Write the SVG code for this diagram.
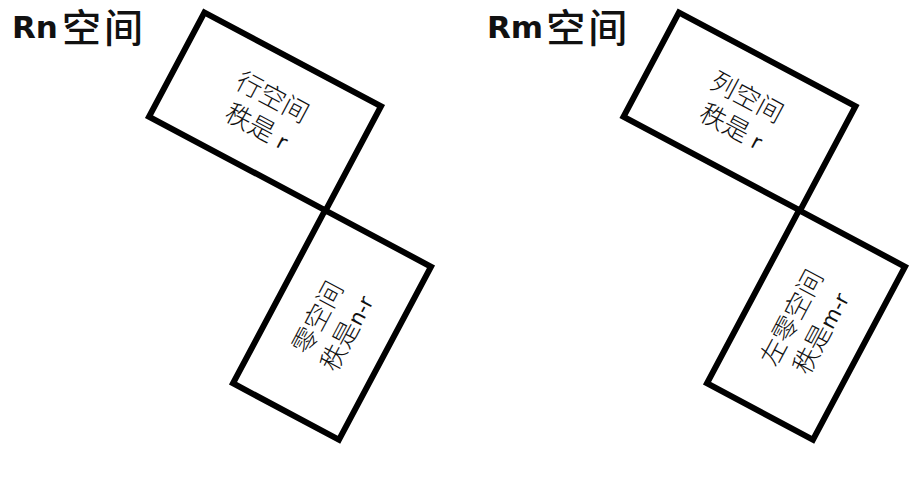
<svg xmlns="http://www.w3.org/2000/svg" width="920" height="481" viewBox="0 0 920 481">
<style>
.box{fill:none;stroke:#000;stroke-width:6;stroke-linejoin:miter}
.title{font-family:"DejaVu Sans","Noto Sans CJK SC",sans-serif;font-size:31px;font-weight:bold;fill:#111}
.title .cjk{font-family:"Noto Sans CJK SC",sans-serif;font-size:39px;font-weight:500;letter-spacing:3px}
.lbl{font-family:"DejaVu Sans","Noto Sans CJK SC",sans-serif;font-size:21px;font-weight:normal;fill:#111;text-anchor:middle}
.lbl .cjk{font-family:"Noto Sans CJK SC",sans-serif;font-size:26px;font-weight:300}
</style>
<rect width="920" height="481" fill="#fff"/>
<g id="title-rn"><text class="title" x="12" y="38">Rn<tspan class="cjk" dx="4" dy="4">空间</tspan></text></g>
<g id="title-rm"><text class="title" x="487" y="38">Rm<tspan class="cjk" dx="3" dy="4">空间</tspan></text></g>

<g id="row-space" transform="translate(265,111.5) rotate(28)">
<rect class="box" x="-100" y="-59" width="200" height="118"/>
<text class="lbl" x="0" y="-7"><tspan class="cjk">行空间</tspan></text>
<text class="lbl" x="0" y="26"><tspan class="cjk">秩是</tspan> r</text>
</g>
<g id="null-space" transform="translate(332,325) rotate(28)">
<rect class="box" x="-60" y="-98" width="120" height="196"/>
<g transform="rotate(-90)">
<text class="lbl" x="0" y="-7"><tspan class="cjk">零空间</tspan></text>
<text class="lbl" x="0" y="26"><tspan class="cjk">秩是</tspan>n-r</text>
</g>
</g>
<g id="col-space" transform="translate(739.5,111.5) rotate(28)">
<rect class="box" x="-100" y="-59" width="200" height="118"/>
<text class="lbl" x="0" y="-7"><tspan class="cjk">列空间</tspan></text>
<text class="lbl" x="0" y="26"><tspan class="cjk">秩是</tspan> r</text>
</g>
<g id="left-null-space" transform="translate(806,325) rotate(28)">
<rect class="box" x="-60" y="-98" width="120" height="196"/>
<g transform="rotate(-90)">
<text class="lbl" x="0" y="-7"><tspan class="cjk">左零空间</tspan></text>
<text class="lbl" x="0" y="26"><tspan class="cjk">秩是</tspan>m-r</text>
</g>
</g>
<g id="connectors"></g>
</svg>
